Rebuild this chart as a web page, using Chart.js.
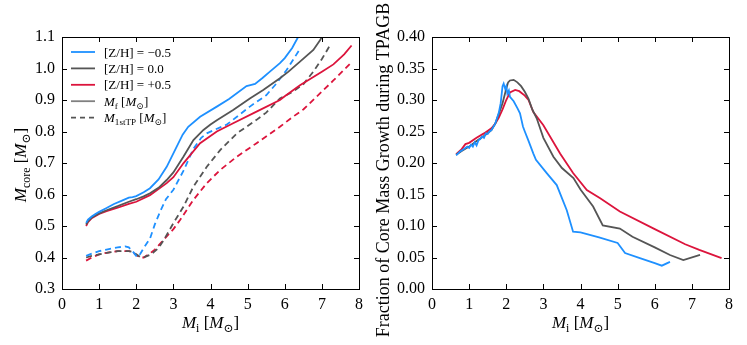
<!DOCTYPE html>
<html>
<head>
<meta charset="utf-8">
<script src="https://cdn.jsdelivr.net/npm/chart.js@4/dist/chart.umd.min.js"></script>
<style>
  html, body { margin: 0; padding: 0; background: #fff; }
  #wrap { position: relative; width: 747px; height: 345px; overflow: hidden; }
  canvas { position: absolute; top: 0; }
  #left { left: 0; }
  #right { left: 373px; }
</style>
</head>
<body>
<div id="wrap">
  <canvas id="left" width="373" height="345"></canvas>
  <canvas id="right" width="374" height="345"></canvas>
</div>
<script>
// ---- данные: левая панель (масса ядра) ----
const X_TICKS = [0, 1, 2, 3, 4, 5, 6, 7, 8];
const Y_TICKS_LEFT = [0.3, 0.4, 0.5, 0.6, 0.7, 0.8, 0.9, 1.0, 1.1];
const Y_TICKS_RIGHT = [0, 0.05, 0.10, 0.15, 0.20, 0.25, 0.30, 0.35, 0.40];
const SERIES_NAMES = ['[Z/H] = \u22120.5', '[Z/H] = 0.0', '[Z/H] = +0.5'];

// Mf, [Z/H] = -0.5
const MI_MF_ZM = [0.65, 0.7, 0.8, 0.9, 1.0, 1.2, 1.4, 1.6, 1.8, 1.9, 2.0, 2.2, 2.37, 2.6, 2.82, 3.09, 3.25, 3.4, 3.72, 4.17, 4.5, 4.97, 5.1, 5.2, 5.4, 5.6, 5.87, 6.0, 6.2, 6.36];
const MF_ZM    = [0.510, 0.520, 0.530, 0.538, 0.545, 0.557, 0.570, 0.580, 0.590, 0.592, 0.595, 0.607, 0.620, 0.648, 0.688, 0.752, 0.790, 0.815, 0.847, 0.879, 0.903, 0.944, 0.948, 0.951, 0.970, 0.990, 1.017, 1.033, 1.065, 1.100];
// Mf, [Z/H] = 0.0
const MI_MF_Z0 = [0.65, 0.7, 0.8, 1.0, 1.2, 1.5, 1.8, 2.0, 2.2, 2.37, 2.6, 2.82, 3.0, 3.27, 3.54, 3.81, 4.0, 4.17, 4.61, 5.06, 5.42, 5.87, 6.1, 6.41, 6.77, 6.95, 7.0];
const MF_Z0    = [0.505, 0.515, 0.527, 0.540, 0.550, 0.563, 0.577, 0.585, 0.594, 0.604, 0.621, 0.646, 0.670, 0.720, 0.773, 0.805, 0.822, 0.836, 0.868, 0.905, 0.932, 0.969, 0.990, 1.022, 1.059, 1.090, 1.100];
// Mf, [Z/H] = +0.5
const MI_MF_ZP = [0.65, 0.7, 0.8, 1.0, 1.2, 1.5, 1.8, 2.0, 2.37, 2.82, 3.0, 3.27, 3.72, 4.17, 4.61, 5.24, 5.87, 6.0, 6.41, 7.0, 7.31, 7.6, 7.8];
const MF_ZP    = [0.500, 0.512, 0.525, 0.538, 0.547, 0.558, 0.570, 0.577, 0.598, 0.636, 0.655, 0.699, 0.763, 0.800, 0.826, 0.863, 0.900, 0.912, 0.947, 0.990, 1.013, 1.045, 1.073];

// M1stTP
const MI_TP_ZM = [0.65, 0.8, 1.0, 1.2, 1.5, 1.7, 1.8, 1.9, 2.0, 2.05, 2.11, 2.2, 2.37, 2.5, 2.64, 2.8, 3.0, 3.27, 3.54, 3.75, 3.9, 4.1, 4.44, 5.06, 5.5, 5.78, 6.05, 6.41];
const TP_ZM    = [0.405, 0.412, 0.420, 0.425, 0.432, 0.435, 0.432, 0.420, 0.405, 0.402, 0.412, 0.430, 0.460, 0.505, 0.545, 0.585, 0.615, 0.675, 0.745, 0.780, 0.794, 0.805, 0.822, 0.879, 0.915, 0.953, 0.995, 1.062];
const MI_TP_Z0 = [0.65, 0.8, 1.0, 1.2, 1.5, 1.8, 1.9, 2.0, 2.1, 2.2, 2.4, 2.6, 2.74, 3.0, 3.27, 3.54, 3.9, 4.26, 4.71, 5.24, 5.5, 5.87, 6.2, 6.5, 6.77, 7.0, 7.2];
const TP_Z0    = [0.400, 0.405, 0.410, 0.415, 0.420, 0.420, 0.418, 0.410, 0.402, 0.400, 0.410, 0.430, 0.455, 0.509, 0.561, 0.625, 0.688, 0.741, 0.794, 0.837, 0.860, 0.905, 0.925, 0.950, 0.990, 1.030, 1.070];
const MI_TP_ZP = [0.65, 0.8, 1.0, 1.2, 1.5, 1.8, 1.9, 2.0, 2.1, 2.2, 2.37, 2.5, 2.73, 3.0, 3.18, 3.54, 3.9, 4.26, 4.71, 5.24, 5.87, 6.2, 6.5, 6.81, 7.31, 7.8];
const TP_ZP    = [0.390, 0.400, 0.410, 0.415, 0.420, 0.420, 0.418, 0.408, 0.400, 0.400, 0.413, 0.425, 0.455, 0.490, 0.519, 0.583, 0.636, 0.678, 0.720, 0.763, 0.815, 0.845, 0.870, 0.905, 0.962, 1.020];

// ---- данные: правая панель (доля роста ядра на TP-AGB) ----
const MI_FR_ZM = [0.65, 0.75, 0.85, 0.95, 1.0, 1.05, 1.1, 1.15, 1.2, 1.25, 1.3, 1.35, 1.4, 1.45, 1.5, 1.55, 1.6, 1.7, 1.8, 1.85, 1.9, 1.93, 1.97, 2.0, 2.03, 2.07, 2.1, 2.2, 2.3, 2.37, 2.45, 2.5, 2.6, 2.73, 2.8, 3.09, 3.36, 3.63, 3.8, 4.0, 4.5, 5.0, 5.2, 5.6, 6.0, 6.19, 6.41];
const FR_ZM    = [0.212, 0.218, 0.222, 0.226, 0.224, 0.229, 0.226, 0.233, 0.228, 0.236, 0.238, 0.242, 0.240, 0.247, 0.246, 0.250, 0.252, 0.262, 0.280, 0.295, 0.322, 0.326, 0.318, 0.322, 0.310, 0.315, 0.305, 0.298, 0.287, 0.279, 0.258, 0.250, 0.235, 0.215, 0.205, 0.184, 0.165, 0.125, 0.091, 0.090, 0.082, 0.073, 0.057, 0.049, 0.041, 0.037, 0.043];
const MI_FR_Z0 = [0.65, 0.8, 1.0, 1.2, 1.4, 1.6, 1.7, 1.8, 1.9, 2.0, 2.05, 2.1, 2.2, 2.3, 2.4, 2.5, 2.6, 2.7, 2.82, 3.0, 3.27, 3.5, 3.81, 4.0, 4.34, 4.6, 5.06, 5.4, 6.0, 6.41, 6.77, 7.22];
const FR_Z0    = [0.213, 0.219, 0.226, 0.235, 0.243, 0.252, 0.262, 0.278, 0.295, 0.318, 0.328, 0.331, 0.332, 0.328, 0.322, 0.313, 0.302, 0.285, 0.271, 0.240, 0.210, 0.192, 0.176, 0.158, 0.131, 0.101, 0.096, 0.083, 0.066, 0.054, 0.046, 0.054];
const MI_FR_ZP = [0.65, 0.8, 0.9, 1.0, 1.2, 1.4, 1.6, 1.7, 1.8, 1.9, 2.0, 2.1, 2.24, 2.35, 2.5, 2.6, 2.73, 3.0, 3.45, 3.8, 4.17, 4.53, 5.06, 6.0, 6.82, 7.2, 7.8];
const FR_ZP    = [0.214, 0.222, 0.230, 0.232, 0.240, 0.247, 0.255, 0.262, 0.272, 0.285, 0.300, 0.312, 0.316, 0.314, 0.307, 0.300, 0.281, 0.260, 0.215, 0.184, 0.157, 0.144, 0.123, 0.095, 0.071, 0.062, 0.049];

const COLORS = ['#1E90FF', '#555555', '#DC143C'];
const SERIF = '"Liberation Serif", "DejaVu Serif", serif';
const TICK_FONT = { family: SERIF, size: 16 };

Chart.defaults.font.family = SERIF;
Chart.defaults.font.size = 16;
Chart.defaults.color = '#000';

function pts(xs, ys) { return xs.map((x, i) => ({ x, y: ys[i] })); }

function line(xs, ys, color, dashed) {
  return {
    data: pts(xs, ys),
    borderColor: color,
    borderWidth: 1.8,
    borderDash: dashed ? [6, 4] : [],
    pointRadius: 0,
    tension: 0,
    fill: false,
  };
}

// ---- текст с индексами ----
function fontFor(p, size) {
  const s = p.sub ? size * 0.7 : size;
  return (p.it ? 'italic ' : '') + s + 'px ' + SERIF;
}
function richWidth(ctx, parts, size) {
  let w = 0;
  parts.forEach(p => { ctx.font = fontFor(p, size); w += ctx.measureText(p.t).width; });
  return w;
}
function drawRich(ctx, parts, x, y, size, align) {
  let cx = align === 'center' ? x - richWidth(ctx, parts, size) / 2 : x;
  ctx.textBaseline = 'alphabetic';
  ctx.fillStyle = '#000';
  parts.forEach(p => {
    ctx.font = fontFor(p, size);
    ctx.fillText(p.t, cx, y + (p.sub ? size * 0.22 : 0));
    cx += ctx.measureText(p.t).width;
  });
}

const MSUN = [{ t: ' [' }, { t: 'M', it: 1 }, { t: '\u2299', sub: 1 }, { t: ']' }];
const TITLE_MI = [{ t: 'M', it: 1 }, { t: 'i', sub: 1 }, ...MSUN];
const TITLE_MCORE = [{ t: 'M', it: 1 }, { t: 'core', sub: 1 }, ...MSUN];
const TITLE_FRAC = [{ t: 'Fraction of Core Mass Growth during TPAGB' }];

// рамка, внутренние тики, подписи осей
const framePlugin = {
  id: 'frame',
  afterDraw(chart, args, opts) {
    const { ctx, chartArea: a } = chart;
    const xs = chart.scales.x, ys = chart.scales.y;
    ctx.save();
    ctx.strokeStyle = '#000';
    ctx.lineWidth = 1;
    ctx.strokeRect(Math.round(a.left) + 0.5, Math.round(a.top) + 0.5,
      Math.round(a.right - a.left), Math.round(a.bottom - a.top));
    const TL = 5;
    ctx.beginPath();
    opts.xTicks.forEach(v => {
      const px = Math.round(xs.getPixelForValue(v)) + 0.5;
      ctx.moveTo(px, a.bottom); ctx.lineTo(px, a.bottom - TL);
      ctx.moveTo(px, a.top); ctx.lineTo(px, a.top + TL);
    });
    opts.yTicks.forEach(v => {
      const py = Math.round(ys.getPixelForValue(v)) + 0.5;
      ctx.moveTo(a.left, py); ctx.lineTo(a.left + TL, py);
      ctx.moveTo(a.right, py); ctx.lineTo(a.right - TL, py);
    });
    ctx.stroke();

    const cx = (a.left + a.right) / 2;
    drawRich(ctx, TITLE_MI, cx, 328, 17, 'center');
    ctx.translate(opts.yTitleX, opts.yTitleY);
    ctx.rotate(-Math.PI / 2);
    drawRich(ctx, opts.yTitle, 0, 6, opts.yTitleSize, 'center');
    ctx.restore();
  },
};

// легенда внутри левой панели
const legendPlugin = {
  id: 'innerLegend',
  afterDraw(chart, args, opts) {
    if (!opts.show) return;
    const ctx = chart.ctx;
    const rows = [
      { color: COLORS[0], dash: [], parts: [{ t: SERIES_NAMES[0] }] },
      { color: COLORS[1], dash: [], parts: [{ t: SERIES_NAMES[1] }] },
      { color: COLORS[2], dash: [], parts: [{ t: SERIES_NAMES[2] }] },
      { color: '#808080', dash: [], parts: [{ t: 'M', it: 1 }, { t: 'f', sub: 1 }, ...MSUN] },
      { color: '#555555', dash: [5, 4], parts: [{ t: 'M', it: 1 }, { t: '1stTP', sub: 1 }, ...MSUN] },
    ];
    ctx.save();
    rows.forEach((r, i) => {
      const y = 52 + i * 16.4;
      ctx.strokeStyle = r.color;
      ctx.lineWidth = 1.8;
      ctx.setLineDash(r.dash);
      ctx.beginPath();
      ctx.moveTo(71, y); ctx.lineTo(95, y);
      ctx.stroke();
      drawRich(ctx, r.parts, 104, y + 4.5, 13, 'left');
    });
    ctx.restore();
  },
};

function makeChart(id, datasets, yMin, yMax, yStep, yDigits, yWidth, padRight, yTitle, yTitleSize, yTitleX, yTitleY, showLegend) {
  return new Chart(document.getElementById(id), {
    type: 'line',
    data: { datasets },
    options: {
      responsive: false,
      animation: false,
      devicePixelRatio: 1,
      layout: { padding: { left: 0, top: 37, right: padRight, bottom: 0 } },
      plugins: {
        legend: { display: false },
        tooltip: { enabled: false },
        frame: { xTicks: X_TICKS, yTicks: id === 'left' ? Y_TICKS_LEFT : Y_TICKS_RIGHT, yTitle, yTitleSize, yTitleX, yTitleY },
        innerLegend: { show: showLegend },
      },
      scales: {
        x: {
          type: 'linear', min: 0, max: 8,
          grid: { display: false, drawTicks: false },
          border: { display: false },
          ticks: { stepSize: 1, padding: 6, maxRotation: 0, font: TICK_FONT, color: '#000', callback: v => String(v) },
          afterFit: s => { s.height = 56; },
        },
        y: {
          type: 'linear', min: yMin, max: yMax,
          grid: { display: false, drawTicks: false },
          border: { display: false },
          ticks: { stepSize: yStep, padding: 7, font: TICK_FONT, color: '#000', callback: v => v.toFixed(yDigits) },
          afterFit: s => { s.width = yWidth; },
        },
      },
    },
    plugins: [framePlugin, legendPlugin],
  });
}

makeChart('left', [
  line(MI_MF_ZM, MF_ZM, COLORS[0], false),
  line(MI_MF_Z0, MF_Z0, COLORS[1], false),
  line(MI_MF_ZP, MF_ZP, COLORS[2], false),
  line(MI_TP_ZM, TP_ZM, COLORS[0], true),
  line(MI_TP_Z0, TP_Z0, COLORS[1], true),
  line(MI_TP_ZP, TP_ZP, COLORS[2], true),
], 0.3, 1.1, 0.1, 1, 62, 14, TITLE_MCORE, 17, 20, 165, true);

makeChart('right', [
  line(MI_FR_ZM, FR_ZM, COLORS[0], false),
  line(MI_FR_Z0, FR_Z0, COLORS[1], false),
  line(MI_FR_ZP, FR_ZP, COLORS[2], false),
], 0, 0.4, 0.05, 2, 59, 18, TITLE_FRAC, 18, 10, 170, false);
</script>
</body>
</html>
